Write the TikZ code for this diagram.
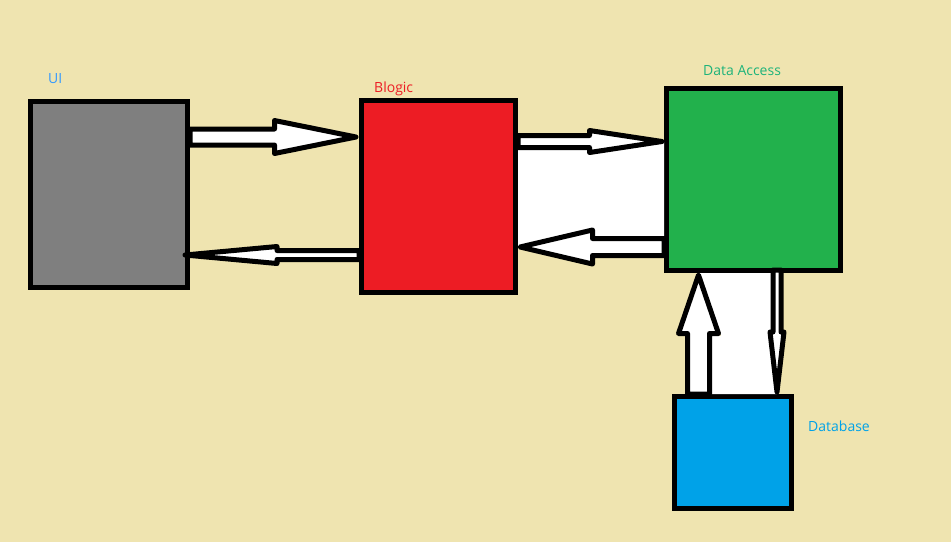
\documentclass[tikz,border=0pt]{standalone}
\usepackage{fontspec}
\setmainfont{Open Sans}
\usetikzlibrary{calc}
\definecolor{bg}{HTML}{EFE4B0}
\definecolor{uigray}{HTML}{7F7F7F}
\definecolor{blred}{HTML}{ED1C24}
\definecolor{dagreen}{HTML}{22B14C}
\definecolor{dbblue}{HTML}{00A2E8}
\definecolor{uitext}{HTML}{3399FF}
\definecolor{datext}{HTML}{1DB37A}
\tikzset{
  box/.style={draw=black, line width=5pt, inner sep=0pt, outer sep=2.5pt},
  lbl/.style={anchor=base west, inner sep=0pt, font=\fontsize{14}{16}\selectfont},
  arrowbox/.style={draw=black, fill=white, line join=round, line width=#1},
  blockarrow/.style n args={3}{% #1 shaft half width, #2 head half width, #3 head length
    to path={
      let \p1=(\tikztostart), \p2=(\tikztotarget),
          \n1={atan2(\y2-\y1,\x2-\x1)}, \n2={veclen(\x2-\x1,\y2-\y1)} in
      ([shift={(\p1)},rotate=\n1]0pt,#1pt)
      -- ([shift={(\p1)},rotate=\n1]\n2-#3pt,#1pt)
      -- ([shift={(\p1)},rotate=\n1]\n2-#3pt,#2pt)
      -- ([shift={(\p1)},rotate=\n1]\n2,0pt)
      -- ([shift={(\p1)},rotate=\n1]\n2-#3pt,-#2pt)
      -- ([shift={(\p1)},rotate=\n1]\n2-#3pt,-#1pt)
      -- ([shift={(\p1)},rotate=\n1]0pt,-#1pt)
      -- cycle
    }
  }
}
\begin{document}
\begin{tikzpicture}[x=1pt,y=-1pt]
\useasboundingbox[fill=bg] (0,0) rectangle (951,542);

% boxes
\node[box, fill=uigray,  minimum width=157pt, minimum height=186pt] (ui) at (109,194.5) {};
\node[box, fill=blred,   minimum width=154pt, minimum height=192pt] (bl) at (438.5,196.5) {};
\node[box, fill=dagreen, minimum width=174pt, minimum height=182pt] (da) at (753.5,179.5) {};
\node[box, fill=dbblue,  minimum width=117pt, minimum height=112pt] (db) at (733,452.5) {};

% labels
\node[lbl, text=uitext] (uil) at (48,83) {UI};
\node[lbl, text=blred] (bll) at (374,92) {Blogic};
\node[lbl, text=datext] (dal) at (703,75) {Data Access};
\node[lbl, text=dbblue] (dbl) at (808,431) {Database};

% white regions between arrows
\fill[white] (518,150) -- (589,150) -- (589,155) -- (664,142) -- (664,236)
  -- (592,236) -- (592,228) -- (518,246) -- cycle;
\fill[white] (710,394) -- (710,336) -- (721,336) -- (698,273) -- (772,273)
  -- (772,330) -- (768,332) -- (777,394) -- cycle;

% connector end points
\coordinate (a1s) at (ui.east |- 0,137);
\coordinate (a1e) at ($(bl.west |- 0,137)+(-3,0)$);
\coordinate (a2s) at (bl.west |- 0,255);
\coordinate (a2e) at ($(ui.east |- 0,255)+(-5,0)$);
\coordinate (a3s) at (bl.east |- 0,141.5);
\coordinate (a3e) at ($(da.west |- 0,141.5)+(-2,0)$);
\coordinate (a4s) at (da.west |- 0,247);
\coordinate (a4e) at ($(bl.east |- 0,247)+(2,0)$);
\coordinate (a5s) at (698.5,0 |- db.north);
\coordinate (a5e) at ($(698.5,0 |- da.south)+(0,2)$);
\coordinate (a6s) at ($(777,0 |- da.south)+(0,-3)$);
\coordinate (a6e) at ($(777,0 |- db.north)+(0,-2)$);

% arrows
\draw[arrowbox=5pt, blockarrow={8}{16.5}{81.5}] (a1s) to (a1e);
\draw[arrowbox=5pt, blockarrow={4.5}{8.5}{92}] (a2s) to (a2e);
\draw[arrowbox=5pt, blockarrow={6}{11}{72.5}] (a3s) to (a3e);
\draw[arrowbox=5pt, blockarrow={8.5}{17}{72.5}] (a4s) to (a4e);
\draw[arrowbox=5pt, blockarrow={11}{20}{58.5}] (a5s) to (a5e);
\draw[arrowbox=5pt, blockarrow={4}{7}{60}] (a6s) to (a6e);
\end{tikzpicture}
\end{document}
